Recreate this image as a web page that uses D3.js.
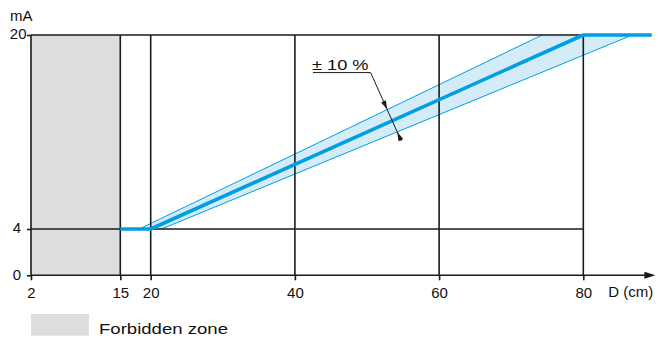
<!DOCTYPE html>
<html>
<head>
<meta charset="utf-8">
<script src="https://cdn.jsdelivr.net/npm/d3@7"></script>
<style>
  html, body { margin: 0; padding: 0; background: #fff; }
  svg { display: block; font-family: "Liberation Sans", Arial, Helvetica, sans-serif; }
</style>
</head>
<body>
<div id="chart"></div>
<script>
// ---- data ----
const xTicks = [2, 15, 20, 40, 60, 80];
const yTicks = [0, 4, 20];
const gridX = [15, 20, 40, 60, 80];
const gridY = [4, 20];
const forbiddenD = [2, 15];
const centerD = [15, 20, 80, 89.5];
const centerMA = [4, 4, 20, 20];
const upperD = [18.1, 74.3];
const upperMA = [4, 20];
const lowerD = [21.5, 86.8];
const lowerMA = [4, 20];
const toleranceLabel = "± 10 %";
const labelAnchor = [42.5, 16.9];   // D, mA of the underline start
const underlineEnd = [50.5, 16.9];
const leaderEnd = [54.8, 11.2];
const xTitle = "D (cm)";
const yTitle = "mA";
const legendLabel = "Forbidden zone";

// ---- layout ----
const W = 658, H = 338;
const svg = d3.select("#chart").append("svg").attr("width", W).attr("height", H);
svg.append("rect").attr("width", W).attr("height", H).attr("fill", "#fff");

const x = d3.scaleLinear().domain([2, 15, 20, 80]).range([31, 120.3, 150.7, 583.3]);
const y = d3.scaleLinear().domain([0, 4, 20]).range([275.3, 229, 35]);
const xEnd = 90;

const BLUE = "#009fe3", BAND = "#d4ebf8", GREY = "#dcdddd", INK = "#1a1a1a";

// forbidden zone
svg.append("rect")
  .attr("x", x(forbiddenD[0])).attr("y", y(20))
  .attr("width", x(forbiddenD[1]) - x(forbiddenD[0]))
  .attr("height", y(0) - y(20))
  .attr("fill", GREY);

// tolerance band
const bandPts = [
  [upperD[0], upperMA[0]], [upperD[1], upperMA[1]],
  [lowerD[1], lowerMA[1]], [lowerD[0], lowerMA[0]]
];
svg.append("path")
  .attr("d", d3.line().x(d => x(d[0])).y(d => y(d[1]))(bandPts) + "Z")
  .attr("fill", BAND);
[[upperD, upperMA], [lowerD, lowerMA]].forEach(([ds, ms]) => {
  svg.append("line")
    .attr("x1", x(ds[0])).attr("y1", y(ms[0]))
    .attr("x2", x(ds[1])).attr("y2", y(ms[1]))
    .attr("stroke", BLUE).attr("stroke-width", 1);
});

// grid
const g = svg.append("g").attr("stroke", INK).attr("stroke-width", 1.6);
gridX.forEach(d => g.append("line")
  .attr("x1", x(d)).attr("x2", x(d)).attr("y1", y(0)).attr("y2", y(20)));
gridY.forEach(v => g.append("line")
  .attr("x1", x(2)).attr("x2", x(80)).attr("y1", y(v)).attr("y2", y(v)));

// axes
const xAxis = svg.append("g").attr("transform", `translate(0,${y(0)})`)
  .call(d3.axisBottom(x).tickValues(xTicks).tickSize(5).tickPadding(7).tickFormat(d3.format("d")));
const yAxis = svg.append("g").attr("transform", `translate(${x(2)},0)`)
  .call(d3.axisLeft(y).tickValues(yTicks).tickSize(4).tickPadding(6).tickFormat(d3.format("d")));
[xAxis, yAxis].forEach(a => {
  a.select(".domain").remove();
  a.selectAll(".tick line").attr("stroke", INK).attr("stroke-width", 1.6);
  a.selectAll("text").attr("fill", "#111").style("font-size", "15px");
});
yAxis.selectAll(".tick text").attr("dy", "0.25em")
  .filter(d => d === 20).attr("x", -4.5);

// axis lines
svg.append("line").attr("x1", x(2)).attr("x2", x(2)).attr("y1", y(20)).attr("y2", y(0))
  .attr("stroke", INK).attr("stroke-width", 1.6);
svg.append("line").attr("x1", x(2)).attr("x2", x(xEnd) - 8).attr("y1", y(0)).attr("y2", y(0))
  .attr("stroke", INK).attr("stroke-width", 1.6);
svg.append("path")
  .attr("d", `M${x(xEnd)},${y(0)} L${x(xEnd) - 11},${y(0) - 3.5} L${x(xEnd) - 11},${y(0) + 3.5} Z`)
  .attr("fill", INK);

// axis titles
svg.append("text").attr("x", 10).attr("y", 21).text(yTitle)
  .style("font-size", "15px").attr("fill", "#111");
svg.append("text").attr("x", x(80) + 25).attr("y", y(0) + 21.5).text(xTitle)
  .style("font-size", "15px").attr("fill", "#111");

// center characteristic
svg.append("path")
  .attr("d", d3.line().x(d => x(d[0])).y(d => y(d[1]))(centerD.map((d, i) => [d, centerMA[i]])))
  .attr("fill", "none").attr("stroke", BLUE).attr("stroke-width", 3.6)
  .attr("stroke-linejoin", "round");

// tolerance annotation
const ax = x(labelAnchor[0]), ay = y(labelAnchor[1]);
const ux = x(underlineEnd[0]), uy = y(underlineEnd[1]);
const lx = x(leaderEnd[0]), ly = y(leaderEnd[1]);
svg.append("text").attr("x", ax - 1).attr("y", ay - 2.3).text(toleranceLabel)
  .style("font-size", "14px").attr("textLength", ux - ax - 1)
  .attr("lengthAdjust", "spacingAndGlyphs").attr("fill", "#111");
svg.append("line").attr("x1", ax).attr("y1", ay).attr("x2", ux).attr("y2", uy)
  .attr("stroke", INK).attr("stroke-width", 1);

function intersect(p1, p2, p3, p4) {
  const d = (p1[0]-p2[0])*(p3[1]-p4[1]) - (p1[1]-p2[1])*(p3[0]-p4[0]);
  const t = ((p1[0]-p3[0])*(p3[1]-p4[1]) - (p1[1]-p3[1])*(p3[0]-p4[0])) / d;
  return [p1[0] + t*(p2[0]-p1[0]), p1[1] + t*(p2[1]-p1[1])];
}
const P0 = [ux, uy], P1 = [lx, ly];
const len = Math.hypot(P1[0]-P0[0], P1[1]-P0[1]);
const dir = [(P1[0]-P0[0])/len, (P1[1]-P0[1])/len];
const nrm = [-dir[1], dir[0]];
const tipU = intersect(P0, P1, [x(upperD[0]), y(upperMA[0])], [x(upperD[1]), y(upperMA[1])]);
const tipL = intersect(P0, P1, [x(lowerD[0]), y(lowerMA[0])], [x(lowerD[1]), y(lowerMA[1])]);
const lineEnd = [tipL[0] + dir[0]*10, tipL[1] + dir[1]*10];
svg.append("line").attr("x1", P0[0]).attr("y1", P0[1]).attr("x2", lineEnd[0]).attr("y2", lineEnd[1])
  .attr("stroke", INK).attr("stroke-width", 1);
function arrowHead(tip, d) {
  const L = 9, hw = 2.6;
  const b = [tip[0] - d[0]*L, tip[1] - d[1]*L];
  return `M${tip[0]},${tip[1]} L${b[0]+nrm[0]*hw},${b[1]+nrm[1]*hw} L${b[0]-nrm[0]*hw},${b[1]-nrm[1]*hw} Z`;
}
svg.append("path").attr("d", arrowHead(tipU, dir)).attr("fill", INK);
svg.append("path").attr("d", arrowHead(tipL, [-dir[0], -dir[1]])).attr("fill", INK);

// legend
svg.append("rect").attr("x", 31).attr("y", 314).attr("width", 58).attr("height", 21.7).attr("fill", GREY);
svg.append("text").attr("x", 99).attr("y", 334).text(legendLabel)
  .style("font-size", "15.5px").attr("textLength", 129)
  .attr("lengthAdjust", "spacingAndGlyphs").attr("fill", "#111");
</script>
</body>
</html>
